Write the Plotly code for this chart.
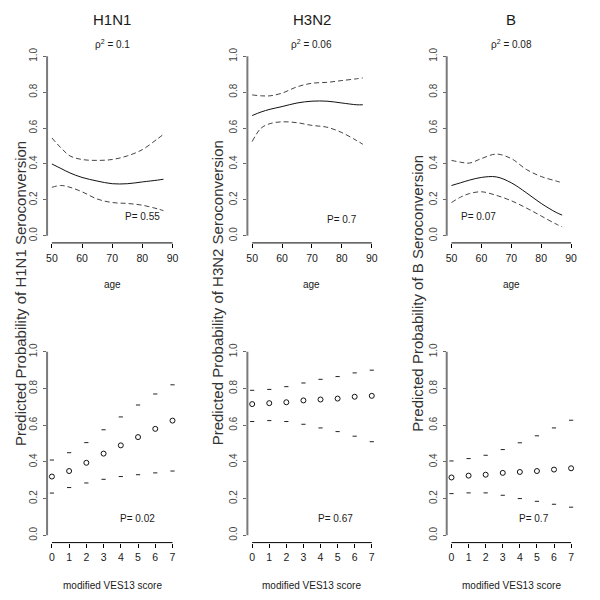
import plotly.graph_objects as go

# ---------------- data ----------------
strains = ["H1N1", "H3N2", "B"]
rho2_labels = ["0.1", "0.06", "0.08"]
p_age = ["0.55", "0.7", "0.07"]
p_ves = ["0.02", "0.67", "0.7"]

ages = [50, 53, 56, 60, 65, 70, 75, 80, 85, 87]

h1n1_age_fit = [0.40, 0.375, 0.35, 0.325, 0.305, 0.29, 0.29, 0.30, 0.31, 0.315]
h1n1_age_upper = [0.545, 0.49, 0.445, 0.425, 0.42, 0.425, 0.445, 0.48, 0.54, 0.565]
h1n1_age_lower = [0.27, 0.28, 0.27, 0.245, 0.205, 0.185, 0.18, 0.17, 0.15, 0.14]

h3n2_age_fit = [0.67, 0.69, 0.705, 0.72, 0.74, 0.75, 0.75, 0.74, 0.73, 0.73]
h3n2_age_upper = [0.785, 0.78, 0.78, 0.795, 0.83, 0.85, 0.855, 0.865, 0.875, 0.88]
h3n2_age_lower = [0.525, 0.60, 0.625, 0.635, 0.63, 0.615, 0.605, 0.575, 0.53, 0.51]

b_age_fit = [0.28, 0.295, 0.31, 0.325, 0.328, 0.295, 0.24, 0.18, 0.13, 0.115]
b_age_upper = [0.42, 0.41, 0.405, 0.43, 0.455, 0.43, 0.37, 0.33, 0.305, 0.295]
b_age_lower = [0.185, 0.215, 0.235, 0.245, 0.225, 0.195, 0.155, 0.11, 0.065, 0.05]

ves = [0, 1, 2, 3, 4, 5, 6, 7]

h1n1_ves_fit = [0.32, 0.35, 0.395, 0.445, 0.49, 0.535, 0.58, 0.625]
h1n1_ves_upper = [0.41, 0.45, 0.505, 0.575, 0.645, 0.71, 0.77, 0.82]
h1n1_ves_lower = [0.23, 0.26, 0.285, 0.305, 0.32, 0.33, 0.34, 0.35]

h3n2_ves_fit = [0.715, 0.72, 0.725, 0.735, 0.74, 0.745, 0.755, 0.76]
h3n2_ves_upper = [0.79, 0.795, 0.81, 0.83, 0.85, 0.865, 0.885, 0.90]
h3n2_ves_lower = [0.62, 0.625, 0.62, 0.605, 0.585, 0.565, 0.54, 0.51]

b_ves_fit = [0.315, 0.325, 0.33, 0.34, 0.345, 0.35, 0.358, 0.365]
b_ves_upper = [0.405, 0.418, 0.436, 0.467, 0.504, 0.542, 0.585, 0.627]
b_ves_lower = [0.227, 0.231, 0.231, 0.218, 0.2, 0.185, 0.169, 0.153]

age_sets = [
    (h1n1_age_fit, h1n1_age_upper, h1n1_age_lower),
    (h3n2_age_fit, h3n2_age_upper, h3n2_age_lower),
    (b_age_fit, b_age_upper, b_age_lower),
]
ves_sets = [
    (h1n1_ves_fit, h1n1_ves_upper, h1n1_ves_lower),
    (h3n2_ves_fit, h3n2_ves_upper, h3n2_ves_lower),
    (b_ves_fit, b_ves_upper, b_ves_lower),
]

# text positions (data coords) for P labels
p_age_pos = [(80, 0.105), (80, 0.09), (59, 0.105)]
p_ves_pos = [(4.95, 0.09), (4.85, 0.09), (4.85, 0.09)]

age_ticks = [50, 60, 70, 80, 90]
ves_ticks = [0, 1, 2, 3, 4, 5, 6, 7]
prob_ticks = [0.0, 0.2, 0.4, 0.6, 0.8, 1.0]

# ---------------- layout helpers ----------------
FONT = "Liberation Sans, Arial, sans-serif"
OFF = 8          # page body margin
W = H = 600 - OFF


def px_x(p):
    return (p - OFF) / W


def px_y(p):
    return 1 - (p - OFF) / H


x_domains = [[px_x(46.2), px_x(176.9)], [px_x(247.2), px_x(376.8)], [px_x(447.2), px_x(576.8)]]
top_dom = [px_y(241.7), px_y(47.3)]
bot_dom = [px_y(542.4), px_y(343.6)]
ytitle_x = [19, 217, 417]

fig = go.Figure()
layout = dict(
    width=W, height=H, margin=dict(l=0, r=0, t=0, b=0),
    paper_bgcolor="white", plot_bgcolor="white", showlegend=False,
    font=dict(family=FONT, color="#111"),
)
annotations = []
shapes = []

dash_style = "5px,3px"
TXT = "#1a1a1a"

for i in range(3):
    for row in (0, 1):
        k = i + 1 + 3 * row
        xa = "xaxis" if k == 1 else f"xaxis{k}"
        ya = "yaxis" if k == 1 else f"yaxis{k}"
        xr = "x" if k == 1 else f"x{k}"
        yr = "y" if k == 1 else f"y{k}"
        if row == 0:
            xrange = [48.4, 91.6]
            xticks = age_ticks
            ydom = top_dom
        else:
            xrange = [-0.28, 7.28]
            xticks = ves_ticks
            ydom = bot_dom
        layout[xa] = dict(
            domain=x_domains[i], range=xrange, anchor=yr,
            tickvals=xticks, ticktext=[str(t) for t in xticks],
            ticks="outside", ticklen=4, tickwidth=1, tickcolor="black",
            showline=False, showgrid=False, zeroline=False,
            tickfont=dict(size=10.5, family=FONT, color=TXT),
            ticklabelstandoff=1,
        )
        layout[ya] = dict(
            domain=ydom, range=[-0.04, 1.04], anchor=xr,
            tickvals=prob_ticks, ticktext=[f"{t:.1f}" for t in prob_ticks],
            tickangle=-90,
            ticks="outside", ticklen=3, tickwidth=1, tickcolor="#666",
            showline=False, showgrid=False, zeroline=False,
            tickfont=dict(size=10, family=FONT, color="#444"),
            ticklabelstandoff=2,
        )
        shapes.append(dict(type="line", xref=f"{xr} domain", yref=yr,
                           x0=0, x1=0, y0=0, y1=1,
                           line=dict(color="#7a7a7a", width=2)))
        shapes.append(dict(type="line", xref=xr, yref=f"{yr} domain",
                           x0=xticks[0], x1=xticks[-1], y0=0, y1=0,
                           line=dict(color="black", width=1)))

        if row == 0:
            fit, up, lo = age_sets[i]
            fig.add_trace(go.Scatter(x=ages, y=up, mode="lines", xaxis=xr, yaxis=yr,
                                     line=dict(color="#444", width=1, dash=dash_style, shape="spline")))
            fig.add_trace(go.Scatter(x=ages, y=lo, mode="lines", xaxis=xr, yaxis=yr,
                                     line=dict(color="#444", width=1, dash=dash_style, shape="spline")))
            fig.add_trace(go.Scatter(x=ages, y=fit, mode="lines", xaxis=xr, yaxis=yr,
                                     line=dict(color="#111", width=1, shape="spline")))
            px, py = p_age_pos[i]
            annotations.append(dict(text=f"P= {p_age[i]}", x=px, y=py, xref=xr, yref=yr,
                                    showarrow=False, font=dict(size=10, family=FONT, color=TXT)))
        else:
            fit, up, lo = ves_sets[i]
            fig.add_trace(go.Scatter(x=ves, y=up, mode="markers", xaxis=xr, yaxis=yr,
                                     marker=dict(symbol="line-ew", size=3, line=dict(color="#222", width=1))))
            fig.add_trace(go.Scatter(x=ves, y=lo, mode="markers", xaxis=xr, yaxis=yr,
                                     marker=dict(symbol="line-ew", size=3, line=dict(color="#222", width=1))))
            fig.add_trace(go.Scatter(x=ves, y=fit, mode="markers", xaxis=xr, yaxis=yr,
                                     marker=dict(symbol="circle-open", size=5, color="#111",
                                                 line=dict(color="#111", width=1))))
            px, py = p_ves_pos[i]
            annotations.append(dict(text=f"P= {p_ves[i]}", x=px, y=py, xref=xr, yref=yr,
                                    showarrow=False, font=dict(size=10, family=FONT, color=TXT)))

    xr_top = "x" if i == 0 else f"x{i + 1}"
    annotations.append(dict(text=strains[i], x=0.5, y=px_y(18), xref=f"{xr_top} domain", yref="paper",
                            showarrow=False, yanchor="middle",
                            font=dict(size=15, family=FONT, color=TXT)))
    annotations.append(dict(text=f"ρ<sup>2</sup> = {rho2_labels[i]}", x=0.5, y=px_y(42),
                            xref=f"{xr_top} domain", yref="paper", showarrow=False, yanchor="middle",
                            font=dict(size=10, family=FONT, color=TXT)))
    annotations.append(dict(text="age", x=0.5, y=px_y(283), xref=f"{xr_top} domain", yref="paper",
                            showarrow=False, yanchor="middle",
                            font=dict(size=10, family=FONT, color=TXT)))
    annotations.append(dict(text="modified VES13 score", x=0.5, y=px_y(585),
                            xref=f"{xr_top} domain", yref="paper", showarrow=False, yanchor="middle",
                            font=dict(size=10, family=FONT, color=TXT)))
    annotations.append(dict(text=f"Predicted Probability of {strains[i]} Seroconversion",
                            x=px_x(ytitle_x[i]), y=px_y(292), xref="paper", yref="paper",
                            showarrow=False, textangle=-90, xanchor="center", yanchor="middle",
                            font=dict(size=15, family=FONT, color="#333")))

layout["annotations"] = annotations
layout["shapes"] = shapes
fig.update_layout(**layout)
fig.write_html("out.html")
